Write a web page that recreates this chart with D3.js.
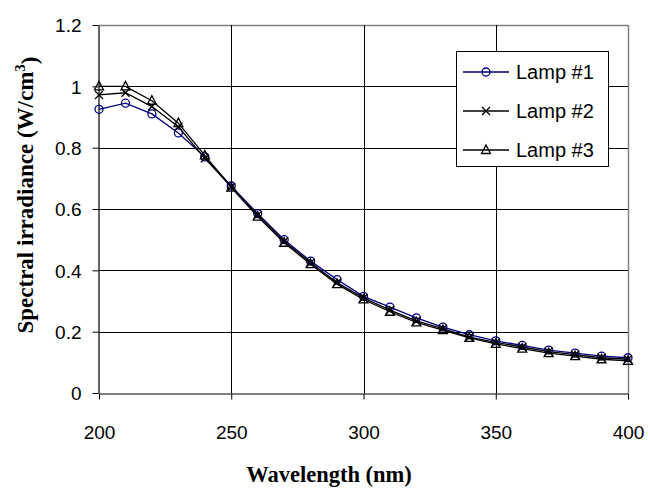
<!DOCTYPE html>
<html>
<head>
<meta charset="utf-8">
<script src="https://cdn.jsdelivr.net/npm/d3@7"></script>
<style>
  body { margin: 0; background: #fff; }
  svg { display: block; }
</style>
</head>
<body>
<div id="chart"></div>
<script>
// wavelength (nm)
const wavelengths = [200, 210, 220, 230, 240, 250, 260, 270, 280, 290, 300,
                     310, 320, 330, 340, 350, 360, 370, 380, 390, 400];

// spectral irradiance values
const lamp1 = [0.925, 0.945, 0.91, 0.848, 0.77, 0.675, 0.585, 0.50, 0.43, 0.37, 0.315,
               0.28, 0.245, 0.215, 0.19, 0.17, 0.155, 0.14, 0.13, 0.12, 0.115];
const lamp2 = [0.972, 0.979, 0.934, 0.868, 0.765, 0.672, 0.58, 0.495, 0.425, 0.36, 0.31,
               0.27, 0.235, 0.21, 0.182, 0.165, 0.15, 0.135, 0.125, 0.115, 0.11];
const lamp3 = [1.0, 1.0, 0.953, 0.88, 0.775, 0.67, 0.575, 0.49, 0.42, 0.355, 0.305,
               0.265, 0.23, 0.205, 0.18, 0.16, 0.145, 0.13, 0.12, 0.11, 0.105];

const seriesNames = ['Lamp #1', 'Lamp #2', 'Lamp #3'];
const xTicks = [200, 250, 300, 350, 400];
const yTicks = [0, 0.2, 0.4, 0.6, 0.8, 1, 1.2];

const totalWidth = 650
const totalHeight = 488

const plotLeft = 99
const plotRight = 628
const plotTop = 25
const plotBottom = 393

const svg = d3.select('#chart')
    .append('svg')
    .attr('width', totalWidth)
    .attr('height', totalHeight);

const xScale = d3.scaleLinear()
    .domain([200, 400])
    .range([plotLeft, plotRight]);

const yScale = d3.scaleLinear()
    .domain([0, 1.2])
    .range([plotBottom, plotTop]);

// gridlines
svg.append('g')
    .selectAll('line')
    .data(yTicks.slice(1))
    .enter()
    .append('line')
    .attr('x1', plotLeft)
    .attr('x2', plotRight)
    .attr('y1', d => Math.round(yScale(d)) + 0.5)
    .attr('y2', d => Math.round(yScale(d)) + 0.5)
    .attr('stroke', d => d === 1.2 ? '#808080' : '#000')
    .attr('stroke-width', d => d === 1.2 ? 1.5 : 1);

svg.append('g')
    .selectAll('line')
    .data(xTicks.slice(1))
    .enter()
    .append('line')
    .attr('x1', d => Math.round(xScale(d)) + 0.5)
    .attr('x2', d => Math.round(xScale(d)) + 0.5)
    .attr('y1', plotTop)
    .attr('y2', plotBottom)
    .attr('stroke', d => d === 400 ? '#808080' : '#000')
    .attr('stroke-width', d => d === 400 ? 1.5 : 1);

// axes
const xAxis = svg.append('g')
    .attr('transform', `translate(0, ${plotBottom + 0.5})`)
    .call(d3.axisBottom(xScale).tickValues(xTicks).tickSize(6).tickSizeOuter(0).tickPadding(26));

const yAxis = svg.append('g')
    .attr('transform', `translate(${plotLeft - 0.5}, 0)`)
    .call(d3.axisLeft(yScale).tickValues(yTicks).tickSize(6).tickSizeOuter(0).tickPadding(11)
        .tickFormat(d => d3.format('')(+d.toFixed(1))));

[xAxis, yAxis].forEach(ax => {
    ax.select('.domain').attr('stroke', '#000').attr('stroke-width', 1.2);
    ax.selectAll('.tick line').attr('stroke', '#000');
    ax.selectAll('.tick text')
        .attr('fill', '#000')
        .style('font-family', '"Liberation Sans", Arial, sans-serif')
        .style('font-size', '19px');
});
xAxis.selectAll('.tick text').attr('dy', '0.71em');
yAxis.selectAll('.tick text').attr('dy', '0.36em');

// series
const series = [
    { name: seriesNames[0], values: lamp1, color: '#000080', marker: 'circle' },
    { name: seriesNames[1], values: lamp2, color: '#000000', marker: 'cross' },
    { name: seriesNames[2], values: lamp3, color: '#000000', marker: 'triangle' }
];

const line = d3.line()
    .x(d => xScale(d[0]))
    .y(d => yScale(d[1]));

function drawMarker(g, type, color) {
    if (type === 'circle') {
        g.append('circle')
            .attr('r', 4)
            .attr('fill', 'none')
            .attr('stroke', color)
            .attr('stroke-width', 1.3);
    } else if (type === 'cross') {
        g.append('path')
            .attr('d', 'M-4,-4L4,4M-4,4L4,-4')
            .attr('stroke', color)
            .attr('stroke-width', 1.3);
    } else {
        g.append('path')
            .attr('d', 'M0,-5L4.5,3.5L-4.5,3.5Z')
            .attr('fill', 'none')
            .attr('stroke', color)
            .attr('stroke-width', 1.3);
    }
}

series.forEach(s => {
    const pts = wavelengths.map((w, i) => [w, s.values[i]]);
    svg.append('path')
        .datum(pts)
        .attr('d', line)
        .attr('fill', 'none')
        .attr('stroke', s.color)
        .attr('stroke-width', 1.3);

    svg.append('g')
        .selectAll('g')
        .data(pts)
        .enter()
        .append('g')
        .attr('transform', d => `translate(${xScale(d[0])},${yScale(d[1])})`)
        .each(function () { drawMarker(d3.select(this), s.marker, s.color); });
});

// legend
const legend = svg.append('g');
legend.append('rect')
    .attr('x', 456.5)
    .attr('y', 51.5)
    .attr('width', 152)
    .attr('height', 115)
    .attr('fill', '#fff')
    .attr('stroke', '#000');

series.forEach((s, i) => {
    const ly = 72 + i * 39;
    const item = legend.append('g');
    item.append('line')
        .attr('x1', 463)
        .attr('x2', 509)
        .attr('y1', ly)
        .attr('y2', ly)
        .attr('stroke', s.color)
        .attr('stroke-width', 1.3);
    const m = item.append('g').attr('transform', `translate(486,${ly})`);
    drawMarker(m, s.marker, s.color);
    item.append('text')
        .attr('x', 516)
        .attr('y', ly)
        .attr('dy', '0.36em')
        .style('font-family', '"Liberation Sans", Arial, sans-serif')
        .style('font-size', '20px')
        .text(s.name);
});

// axis titles
svg.append('text')
    .attr('x', 329)
    .attr('y', 482)
    .style('text-anchor', 'middle')
    .style('font-family', '"Liberation Serif", "Times New Roman", serif')
    .style('font-weight', 'bold')
    .style('font-size', '22.5px')
    .text('Wavelength (nm)');

const yTitle = svg.append('text')
    .attr('transform', 'translate(33, 195) rotate(-90)')
    .style('text-anchor', 'middle')
    .style('font-family', '"Liberation Serif", "Times New Roman", serif')
    .style('font-weight', 'bold')
    .style('font-size', '23px');
yTitle.append('tspan').text('Spectral irradiance (W/cm');
yTitle.append('tspan').attr('dy', '-0.55em').style('font-size', '15px').text('3');
yTitle.append('tspan').attr('dy', '0.55em').text(')');
</script>
</body>
</html>
